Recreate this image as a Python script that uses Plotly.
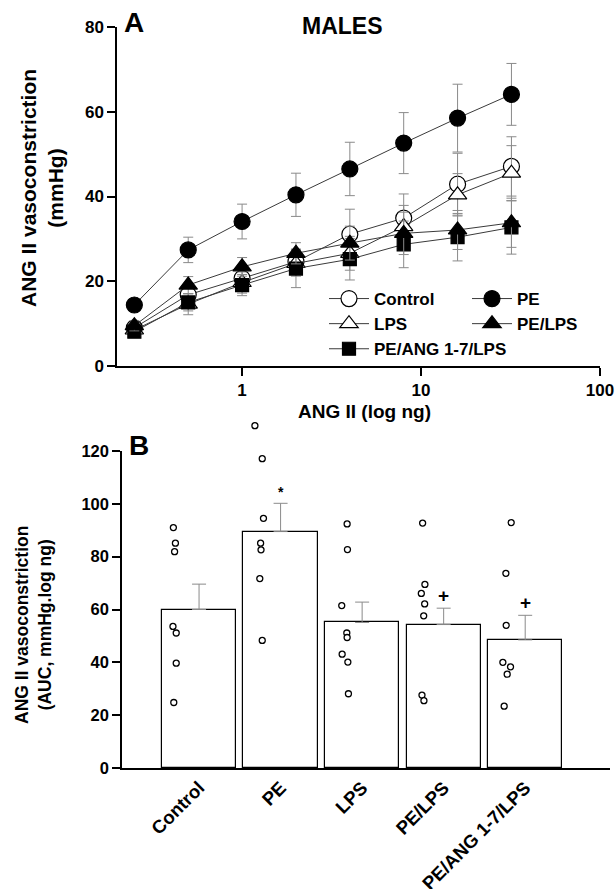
import plotly.graph_objects as go

# ---------------- Panel A data ----------------
doses = [0.25, 0.5, 1, 2, 4, 8, 16, 32]

control = [9.0, 16.8, 20.7, 24.6, 31.1, 34.9, 42.9, 47.1]
control_err = [1.5, 2.0, 2.5, 3.0, 5.9, 5.7, 7.3, 7.0]
pe = [14.4, 27.4, 34.1, 40.4, 46.5, 52.6, 58.5, 64.1]
pe_err = [1.5, 3.0, 4.1, 5.1, 6.3, 7.2, 8.0, 7.3]
lps = [8.5, 14.6, 19.7, 24.2, 26.6, 32.9, 40.4, 45.5]
lps_err = [1.2, 2.5, 2.5, 3.0, 4.0, 5.0, 5.0, 6.5]
pe_lps = [9.5, 19.1, 23.4, 26.6, 29.0, 31.3, 32.1, 33.8]
pe_lps_err = [1.2, 2.0, 2.2, 2.5, 4.0, 5.0, 4.6, 5.8]
pe_ang_lps = [8.1, 15.0, 19.1, 23.0, 25.2, 28.7, 30.4, 32.7]
pe_ang_lps_err = [1.2, 2.0, 2.5, 4.5, 4.9, 5.5, 5.6, 6.3]

x_ticks_a = [1, 10, 100]
y_ticks_a = [0, 20, 40, 60, 80]

# ---------------- Panel B data ----------------
groups = ["Control", "PE", "LPS", "PE/LPS", "PE/ANG 1-7/LPS"]
auc_mean = [60.0, 89.5, 55.1, 54.3, 48.5]
auc_sem = [9.6, 10.7, 7.7, 6.2, 9.3]

pts_control = [91.0, 85.1, 81.9, 53.6, 51.1, 39.7, 24.8]
pts_pe = [129.6, 117.1, 94.5, 85.1, 82.6, 71.7, 48.3]
pts_lps = [92.4, 82.7, 61.5, 51.1, 49.4, 43.1, 40.1, 28.1]
pts_pe_lps = [92.7, 69.5, 66.1, 62.1, 57.6, 27.6, 25.5]
pts_pe_ang_lps = [92.9, 73.7, 54.0, 40.0, 38.3, 35.5, 23.4]

jit_control = [-0.315, -0.29, -0.30, -0.32, -0.28, -0.28, -0.31]
jit_pe = [-0.315, -0.225, -0.21, -0.245, -0.24, -0.255, -0.225]
jit_lps = [-0.184, -0.18, -0.25, -0.188, -0.184, -0.245, -0.175, -0.168]
jit_pe_lps = [-0.258, -0.23, -0.274, -0.233, -0.245, -0.266, -0.242]
jit_pe_ang_lps = [-0.172, -0.237, -0.233, -0.274, -0.18, -0.221, -0.258]

sig_marks = ["", "*", "", "+", "+"]
y_ticks_b = [0, 20, 40, 60, 80, 100, 120]

# ---------------- Styling ----------------
W, H = 616, 889
FONT = "Liberation Sans, Arial, sans-serif"
LINE_COL = "#3a3a3a"
ERR_COL = "#8a8a8a"

# panel B pixel geometry (plot area), used for an invisible taller axis that
# shares the same scale so that points above 120 remain visible
B_TOP, B_BOT, B_EXT_TOP = 451, 768, 415
B_YMAX = 120


def px_x(p):
    return p / W


def px_y(p):
    return 1 - p / H


fig = go.Figure()

series = [
    ("Control", control, control_err, "circle", "white", "legend", 16),
    ("LPS", lps, lps_err, "triangle-up", "white", "legend", 16),
    ("PE/ANG 1-7/LPS", pe_ang_lps, pe_ang_lps_err, "square", "black", "legend", 13),
    ("PE", pe, pe_err, "circle", "black", "legend2", 16),
    ("PE/LPS", pe_lps, pe_lps_err, "triangle-up", "black", "legend2", 16),
]

for name, vals, err, sym, fill, leg, msize in series:
    fig.add_trace(go.Scatter(
        x=doses, y=vals, name=name, mode="lines+markers",
        line=dict(color=LINE_COL, width=1),
        marker=dict(symbol=sym, size=msize, color=fill,
                    line=dict(color="black", width=1.2)),
        error_y=dict(type="data", array=err, visible=True,
                     color=ERR_COL, thickness=1, width=5),
        legend=leg, legendgroup=name,
        xaxis="x", yaxis="y",
    ))

# Panel B bars
fig.add_trace(go.Bar(
    x=list(range(len(groups))), y=auc_mean, width=0.91,
    marker=dict(color="white", line=dict(color="black", width=1.2)),
    error_y=dict(type="data", array=auc_sem, arrayminus=[0] * len(groups),
                 visible=True, color=ERR_COL, thickness=1, width=7),
    showlegend=False, xaxis="x2", yaxis="y2",
))

all_pts = [pts_control, pts_pe, pts_lps, pts_pe_lps, pts_pe_ang_lps]
all_jit = [jit_control, jit_pe, jit_lps, jit_pe_lps, jit_pe_ang_lps]
for gi, (vals, jit) in enumerate(zip(all_pts, all_jit)):
    fig.add_trace(go.Scatter(
        x=[gi + j for j in jit], y=vals, mode="markers",
        marker=dict(symbol="circle", size=6, color="white",
                    line=dict(color="black", width=1.3)),
        showlegend=False, xaxis="x2", yaxis="y3",
    ))

annotations = []
for gi, mark in enumerate(sig_marks):
    if mark:
        top = auc_mean[gi] + auc_sem[gi]
        annotations.append(dict(
            x=gi, y=top, xref="x2", yref="y2", text=mark, showarrow=False,
            yanchor="bottom", yshift=(1 if mark == "*" else 0),
            font=dict(family=FONT, size=(14 if mark == "*" else 19),
                      color="#000000", weight="bold"),
        ))

bold = dict(family=FONT, color="black", weight="bold")

annotations += [
    dict(x=px_x(122), y=px_y(22), xref="paper", yref="paper", text="A",
         showarrow=False, xanchor="left", yanchor="middle",
         font=dict(bold, size=28)),
    dict(x=px_x(342), y=px_y(26), xref="paper", yref="paper", text="MALES",
         showarrow=False, xanchor="center", yanchor="middle",
         font=dict(bold, size=23)),
    dict(x=px_x(127), y=px_y(446), xref="paper", yref="paper", text="B",
         showarrow=False, xanchor="left", yanchor="middle",
         font=dict(bold, size=28)),
    dict(x=px_x(42), y=px_y(188), xref="paper", yref="paper",
         text="ANG II vasoconstriction<br>(mmHg)", textangle=-90,
         showarrow=False, xanchor="center", yanchor="middle",
         font=dict(bold, size=21)),
    dict(x=px_x(33), y=px_y(625), xref="paper", yref="paper",
         text="ANG II vasoconstriction<br>(AUC, mmHg.log ng)", textangle=-90,
         showarrow=False, xanchor="center", yanchor="middle",
         font=dict(bold, size=17.5)),
    dict(x=px_x(364), y=px_y(411), xref="paper", yref="paper",
         text="ANG II (log ng)", showarrow=False,
         xanchor="center", yanchor="middle", font=dict(bold, size=19)),
]

axis_common = dict(showline=True, linecolor="black", linewidth=1.5,
                   ticks="outside", ticklen=8, tickwidth=1.5, tickcolor="black",
                   showgrid=False, zeroline=False, automargin=False,
                   tickfont=dict(bold, size=17))

ext_max = B_YMAX * (B_BOT - B_EXT_TOP) / (B_BOT - B_TOP)

fig.update_layout(
    width=W, height=H,
    margin=dict(l=0, r=0, t=0, b=0),
    paper_bgcolor="white", plot_bgcolor="rgba(0,0,0,0)",
    font=dict(family=FONT, color="black"),
    showlegend=True,
    xaxis=dict(axis_common, type="log", range=[-0.699, 2],
               tickvals=x_ticks_a, ticktext=[str(v) for v in x_ticks_a],
               domain=[px_x(117), px_x(600)], anchor="y"),
    yaxis=dict(axis_common, range=[0, 80], tickvals=y_ticks_a,
               domain=[px_y(366), px_y(27)], anchor="x"),
    xaxis2=dict(axis_common, range=[-0.945, 5.04], ticks="",
                tickvals=list(range(len(groups))), ticktext=groups,
                tickangle=-45, tickfont=dict(bold, size=18.5),
                domain=[px_x(122), px_x(610)], anchor="y2"),
    yaxis2=dict(axis_common, range=[0, B_YMAX], tickvals=y_ticks_b,
                tickfont=dict(bold, size=16.5),
                domain=[px_y(B_BOT), px_y(B_TOP)], anchor="x2"),
    yaxis3=dict(range=[0, ext_max], visible=False, showgrid=False,
                zeroline=False, automargin=False,
                domain=[px_y(B_BOT), px_y(B_EXT_TOP)], anchor="x2"),
    legend=dict(x=px_x(324), y=px_y(281), xanchor="left", yanchor="top",
                bgcolor="rgba(0,0,0,0)", font=dict(bold, size=17),
                tracegroupgap=0, itemwidth=40),
    legend2=dict(x=px_x(467), y=px_y(281), xanchor="left", yanchor="top",
                 bgcolor="rgba(0,0,0,0)", font=dict(bold, size=17),
                 tracegroupgap=0, itemwidth=40),
    annotations=annotations,
    bargap=0,
)

fig.write_html(
    "out.html",
    config={"displayModeBar": False},
    post_script="document.body.style.margin='0px';document.body.style.overflow='hidden';",
)
